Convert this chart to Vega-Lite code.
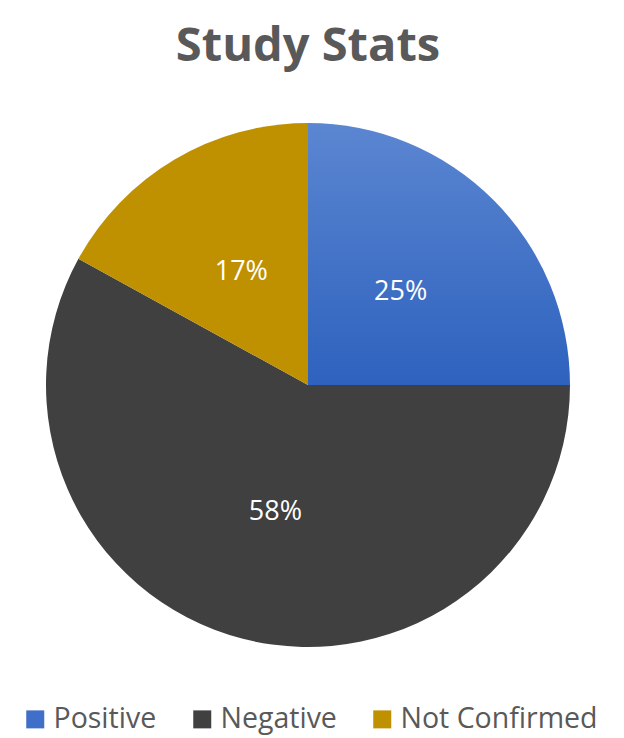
{
  "$schema": "https://vega.github.io/schema/vega-lite/v6.json",
  "width": 524,
  "height": 524,
  "autosize": {"type": "none"},
  "padding": {"left": 46, "top": 123, "right": 54, "bottom": 91},
  "background": "white",
  "view": {"stroke": null},
  "title": {
    "text": "Study Stats",
    "font": "Open Sans",
    "fontSize": 47,
    "fontWeight": "bold",
    "color": "#595959",
    "anchor": "middle",
    "offset": 52
  },
  "data": {
    "values": [
      {"status": "Positive", "pct": 25, "label": "25%", "idx": 1},
      {"status": "Negative", "pct": 58, "label": "58%", "idx": 2},
      {"status": "Not Confirmed", "pct": 17, "label": "17%", "idx": 3}
    ]
  },
  "encoding": {
    "theta": {"field": "pct", "type": "quantitative", "stack": true},
    "order": {"field": "idx", "type": "quantitative"}
  },
  "layer": [
    {
      "mark": {"type": "arc", "outerRadius": 262},
      "encoding": {
        "color": {
          "condition": {
            "test": "datum.status === 'Positive'",
            "value": {"gradient": "linear", "x1": 0, "y1": 0, "x2": 0, "y2": 1, "stops": [{"offset": 0, "color": "#5B86D1"}, {"offset": 1, "color": "#2E62BE"}]}
          },
          "field": "status",
          "type": "nominal",
          "scale": {
            "domain": ["Positive", "Negative", "Not Confirmed"],
            "range": ["#3F6FC8", "#404040", "#BF9000"]
          },
          "legend": {
            "title": null,
            "orient": "none",
            "legendX": -25,
            "legendY": 582,
            "direction": "horizontal",
            "symbolType": "square",
            "symbolSize": 324,
            "symbolStrokeWidth": 0,
            "labelFont": "Open Sans",
            "labelFontSize": 28.5,
            "labelColor": "#595959",
            "labelOffset": 4,
            "columnPadding": 31,
            "labelLimit": 300
          }
        }
      }
    },
    {
      "mark": {"type": "text", "radius": 131, "font": "Open Sans", "fontSize": 27, "color": "white"},
      "encoding": {"text": {"field": "label"}}
    }
  ]
}
